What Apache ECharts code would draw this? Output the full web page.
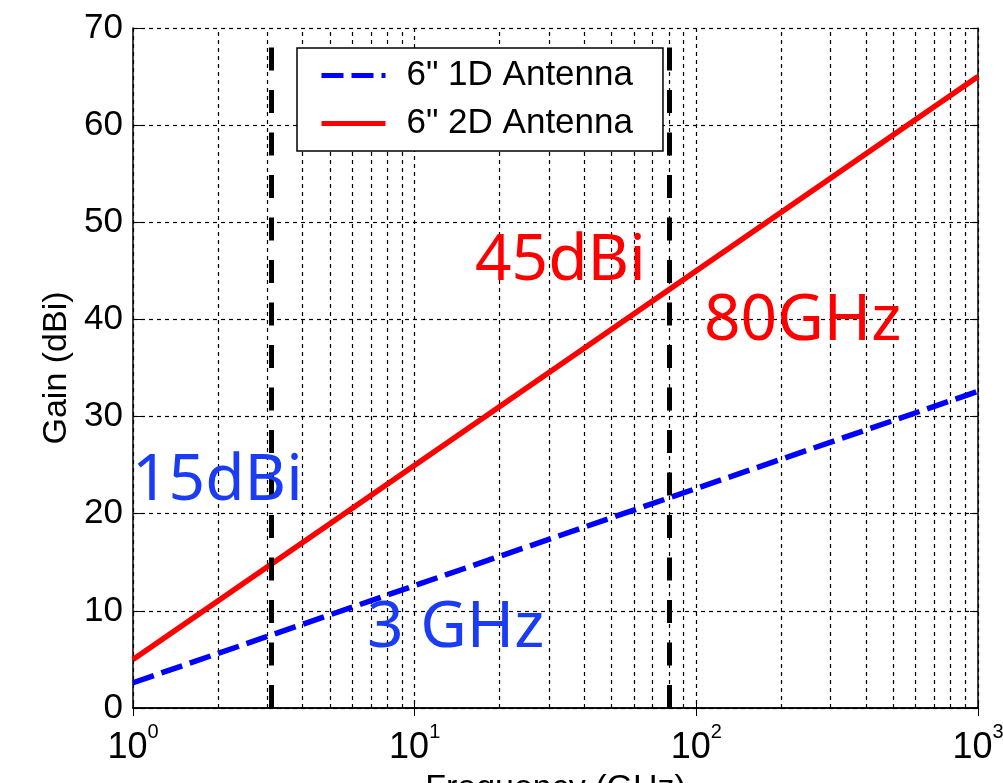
<!DOCTYPE html>
<html>
<head>
<meta charset="utf-8">
<script src="https://cdn.jsdelivr.net/npm/echarts@6/dist/echarts.min.js"></script>
<style>
  html, body { margin: 0; padding: 0; background: #fff; }
  #chart { width: 1003px; height: 783px; }
</style>
</head>
<body>
<div id="chart"></div>
<script>
// values
const freqGHz = [1, 10, 100, 1000];
const gain2D = [5, 25, 45, 65];        // 6" 2D antenna, dBi
const gain1D = [2.6, 12.6, 22.6, 32.6]; // 6" 1D antenna, dBi
const markerFreqs = [3.1, 80];          // thick dashed verticals
const minorFreqs = [2, 3, 4, 5, 6, 7, 8, 9,
  20, 30, 40, 50, 60, 70, 80, 90,
  200, 300, 400, 500, 600, 700, 800, 900];
const yTicks = { min: 0, max: 70, step: 10 };

const chart = echarts.init(document.getElementById('chart'));

const gridDash = { color: '#000', width: 1.2, type: [4, 4] };
const axisFont = 'Liberation Sans, Arial, sans-serif';

function pairs(xs, ys) {
  return xs.map((x, i) => [x, ys[i]]);
}

const option = {
  animation: false,
  grid: { left: 133, right: 25, top: 28, bottom: 75, outerBoundsMode: 'none', containLabel: false },
  legend: {
    data: ['6" 1D Antenna', '6" 2D Antenna'],
    orient: 'vertical',
    left: 297,
    top: 48,
    padding: [10, 30, 10, 22],
    itemWidth: 64,
    itemHeight: 30,
    itemGap: 13,
    backgroundColor: '#fff',
    borderColor: '#000',
    borderWidth: 1.5,
    borderRadius: 0,
    itemStyle: { opacity: 0 },
    lineStyle: { width: 5 },
    textStyle: {
      fontFamily: axisFont,
      fontSize: 35,
      color: '#000',
      lineHeight: 30,
      padding: [0, 0, 0, 16]
    }
  },
  xAxis: [{
    type: 'log',
    logBase: 10,
    min: 1,
    max: 1000,
    position: 'bottom',
    name: 'Frequency (GHz)',
    nameLocation: 'middle',
    nameGap: 64,
    nameTextStyle: { fontFamily: axisFont, fontSize: 34, color: '#000' },
    axisLine: { lineStyle: { color: '#000', width: 1.5 } },
    axisTick: { inside: true, length: 8, lineStyle: { color: '#000' } },
    axisLabel: {
      margin: 14,
      formatter: v => '{b|10}{s|' + Math.round(Math.log10(v)) + '}',
      rich: {
        b: { fontFamily: axisFont, fontSize: 36, color: '#000', lineHeight: 44, verticalAlign: 'bottom' },
        s: { fontFamily: axisFont, fontSize: 20, color: '#000', verticalAlign: 'top' }
      }
    },
    splitLine: { show: true, lineStyle: gridDash }
  }, {
    type: 'log',
    logBase: 10,
    min: 1,
    max: 1000,
    position: 'top',
    axisLine: { lineStyle: { color: '#000', width: 1.5 } },
    axisTick: { inside: true, length: 8, lineStyle: { color: '#000' } },
    axisLabel: { show: false },
    splitLine: { show: false }
  }],
  yAxis: [{
    type: 'value',
    min: yTicks.min,
    max: yTicks.max,
    interval: yTicks.step,
    name: 'Gain (dBi)',
    nameLocation: 'middle',
    nameRotate: 90,
    nameGap: 50,
    nameTextStyle: { fontFamily: axisFont, fontSize: 34, color: '#000' },
    axisLine: { show: true, lineStyle: { color: '#000', width: 1.5 } },
    axisTick: { show: true, inside: true, length: 8, lineStyle: { color: '#000' } },
    axisLabel: { fontFamily: axisFont, fontSize: 35, color: '#000', margin: 10 },
    splitLine: { show: true, lineStyle: gridDash }
  }, {
    type: 'value',
    min: yTicks.min,
    max: yTicks.max,
    interval: yTicks.step,
    position: 'right',
    axisLine: { show: true, lineStyle: { color: '#000', width: 1.5 } },
    axisTick: { show: true, inside: true, length: 8, lineStyle: { color: '#000' } },
    axisLabel: { show: false },
    splitLine: { show: false }
  }],
  series: [{
    name: '6" 1D Antenna',
    type: 'line',
    data: pairs(freqGHz, gain1D),
    symbol: 'none',
    z: 3,
    lineStyle: { color: '#0000ff', width: 5.5, type: [22, 8] },
    itemStyle: { color: '#0000ff' },
    // minor log grid, drawn under the curves
    markLine: {
      z: 1,
      silent: true,
      symbol: ['none', 'none'],
      label: { show: false },
      lineStyle: gridDash,
      emphasis: { disabled: true },
      data: minorFreqs.map(f => ({ xAxis: f }))
    }
  }, {
    name: '6" 2D Antenna',
    type: 'line',
    data: pairs(freqGHz, gain2D),
    symbol: 'none',
    z: 3,
    lineStyle: { color: '#ff0000', width: 5.5 },
    itemStyle: { color: '#ff0000' },
    markLine: {
      z: 6,
      silent: true,
      symbol: ['none', 'none'],
      label: { show: false },
      lineStyle: { color: '#000', width: 5, type: [23, 19.5] },
      emphasis: { disabled: true },
      data: markerFreqs.map(f => ({ xAxis: f }))
    }
  }],
  graphic: [
    { type: 'text', left: 475, top: 230, z: 10,
      style: { text: '45dBi', fill: '#ff0000', font: '64px "Noto Sans", sans-serif' } },
    { type: 'text', left: 704, top: 290, z: 10,
      style: { text: '80GHz', fill: '#ff0000', font: '64px "Noto Sans", sans-serif' } },
    { type: 'text', left: 132, top: 450, z: 10,
      style: { text: '15dBi', fill: '#1b3cf5', font: '64px "Noto Sans", sans-serif' } },
    { type: 'text', left: 367, top: 597, z: 10,
      style: { text: '3 GHz', fill: '#1b3cf5', font: '64px "Noto Sans", sans-serif' } }
  ]
};

chart.setOption(option);
</script>
</body>
</html>
